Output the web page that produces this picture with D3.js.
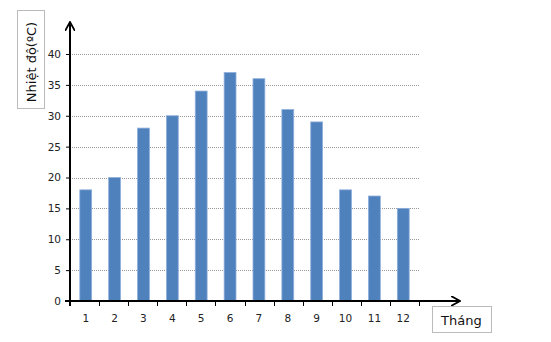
<!DOCTYPE html>
<html lang="vi">
<head>
<meta charset="UTF-8">
<script src="https://cdn.jsdelivr.net/npm/d3@7"></script>
<style>
  body { margin: 0; background: #fff; }
  text { font-family: "DejaVu Sans", Verdana, sans-serif; }
</style>
</head>
<body>
<svg id="chart"></svg>
<script>
  var months = ['1', '2', '3', '4', '5', '6', '7', '8', '9', '10', '11', '12'];
  var temps = [18, 20, 28, 30, 34, 37, 36, 31, 29, 18, 17, 15];
  var yTicks = [0, 5, 10, 15, 20, 25, 30, 35, 40];

  var width = 551, height = 342;
  var x0 = 70, x1 = 419, y0 = 301, y1 = 54;

  var svg = d3.select('#chart').attr('width', width).attr('height', height);

  var x = d3.scaleBand().domain(months).range([x0, x1]).paddingInner(0.59).paddingOuter(0.34);
  var y = d3.scaleLinear().domain([0, 40]).range([y0, y1]);

  // arrow marker
  svg.append('defs').append('marker')
    .attr('id', 'arrow')
    .attr('viewBox', '0 0 10 10')
    .attr('refX', 9).attr('refY', 5)
    .attr('markerWidth', 10).attr('markerHeight', 10)
    .attr('markerUnits', 'userSpaceOnUse')
    .attr('orient', 'auto')
    .append('path')
    .attr('d', 'M0,0 L9,5 L0,10')
    .attr('fill', 'none')
    .attr('stroke', '#000')
    .attr('stroke-width', 1.8);

  // gridlines
  svg.append('g').selectAll('line')
    .data(yTicks.filter(function(d) { return d > 0; }))
    .enter().append('line')
    .attr('x1', x0).attr('x2', 420)
    .attr('y1', function(d) { return Math.round(y(d)) + 0.5; })
    .attr('y2', function(d) { return Math.round(y(d)) + 0.5; })
    .attr('stroke', '#999')
    .attr('stroke-dasharray', '1,1');

  // bars
  svg.append('g').selectAll('rect')
    .data(temps)
    .enter().append('rect')
    .attr('x', function(d, i) { return x(months[i]); })
    .attr('width', x.bandwidth())
    .attr('y', function(d) { return y(d); })
    .attr('height', function(d) { return y0 - y(d); })
    .attr('fill', '#4F81BD')
    .attr('stroke', '#8EAEDB')
    .attr('stroke-width', 0.8);

  // y axis
  var yAxis = d3.axisLeft(y).tickValues(yTicks).tickSize(4).tickPadding(5);
  var gy = svg.append('g').attr('transform', 'translate(' + x0 + ',0)').call(yAxis);
  gy.select('.domain').remove();
  gy.selectAll('text').attr('font-size', 10.5).attr('fill', '#222').style('font-family', '"DejaVu Sans", sans-serif');
  gy.selectAll('line').attr('stroke', '#000');

  // x axis ticks
  var tickPos = d3.range(months.length + 1).map(function(i) { return x0 + i * (x1 - x0) / months.length; });
  svg.append('g').selectAll('line')
    .data(tickPos)
    .enter().append('line')
    .attr('x1', function(d) { return Math.round(d) + 0.5; })
    .attr('x2', function(d) { return Math.round(d) + 0.5; })
    .attr('y1', y0).attr('y2', y0 + 5)
    .attr('stroke', '#000');

  svg.append('g').selectAll('text')
    .data(months)
    .enter().append('text')
    .attr('x', function(d) { return x(d) + x.bandwidth() / 2; })
    .attr('y', 322)
    .attr('text-anchor', 'middle')
    .attr('font-size', 10.5)
    .attr('fill', '#222')
    .text(function(d) { return d; });

  // axis lines with arrows
  svg.append('line')
    .attr('x1', x0).attr('y1', 306).attr('x2', x0).attr('y2', 22)
    .attr('stroke', '#000').attr('stroke-width', 2)
    .attr('marker-end', 'url(#arrow)');
  svg.append('line')
    .attr('x1', 65).attr('y1', y0).attr('x2', 460).attr('y2', y0)
    .attr('stroke', '#000').attr('stroke-width', 2)
    .attr('marker-end', 'url(#arrow)');

  // axis title boxes
  svg.append('rect').attr('x', 17.5).attr('y', 10.5).attr('width', 27).attr('height', 98)
    .attr('fill', '#fff').attr('stroke', '#bbb');
  svg.append('text')
    .attr('transform', 'translate(36,62) rotate(-90)')
    .attr('text-anchor', 'middle')
    .attr('font-size', 13)
    .attr('fill', '#111')
    .text('Nhiệt độ(ºC)');

  svg.append('rect').attr('x', 432.5).attr('y', 306.5).attr('width', 59).attr('height', 26)
    .attr('fill', '#fff').attr('stroke', '#bbb');
  svg.append('text')
    .attr('x', 441).attr('y', 325)
    .attr('font-size', 13)
    .attr('fill', '#111')
    .text('Tháng');
</script>
</body>
</html>
